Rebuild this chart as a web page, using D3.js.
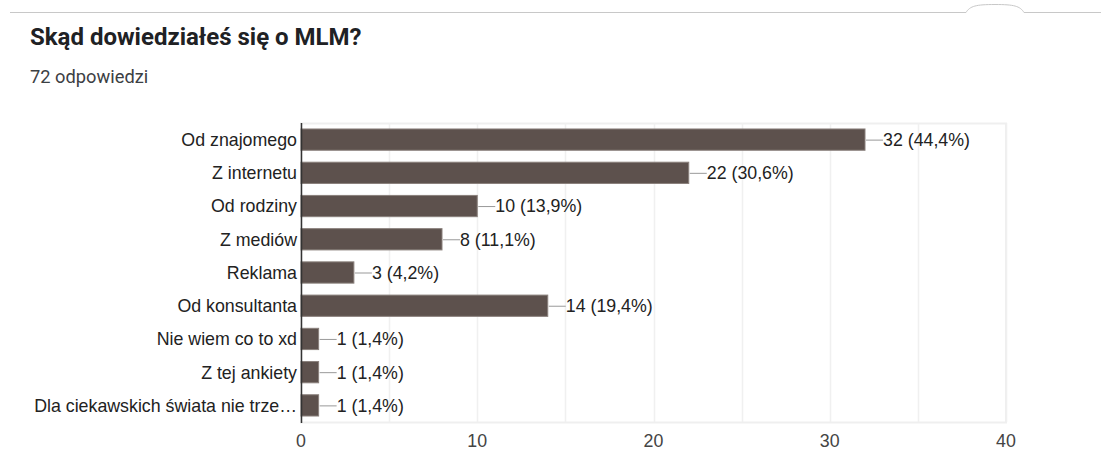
<!DOCTYPE html>
<html>
<head>
<meta charset="utf-8">
<script src="https://cdn.jsdelivr.net/npm/d3@7"></script>
<style>
  body { margin: 0; background: #fff; }
  svg { display: block; }
</style>
</head>
<body>
<div class="container"></div>
<script>
// data
const categories = ["Od znajomego", "Z internetu", "Od rodziny", "Z mediów", "Reklama",
  "Od konsultanta", "Nie wiem co to xd", "Z tej ankiety", "Dla ciekawskich świata nie trze…"];
const counts = [32, 22, 10, 8, 3, 14, 1, 1, 1];
const percents = ["44,4%", "30,6%", "13,9%", "11,1%", "4,2%", "19,4%", "1,4%", "1,4%", "1,4%"];
const xTicks = [0, 10, 20, 30, 40];
const gridTicks = [5, 10, 15, 20, 25, 30, 35, 40];

const W = 1101, H = 450;
const plot = { left: 301, right: 1006, top: 123, bottom: 422 };
const chartFont = "Arial, 'Liberation Sans', sans-serif";

const svg = d3.select("div.container").append("svg")
  .attr("width", W).attr("height", H);

// top divider with the little bump
svg.append("path")
  .attr("d", "M10,12.5 L966,12.5 C970,6 976,4.5 995,4.5 C1014,4.5 1020,6 1024,12.5 L1101,12.5")
  .attr("fill", "none").attr("stroke", "#c8c8c8").attr("stroke-width", 1);

//title
svg.append("text")
  .attr("x", 30).attr("y", 45)
  .style("font-family", "Roboto, Arial, sans-serif")
  .style("font-size", "24px").style("font-weight", "bold")
  .attr("fill", "#202124")
  .text("Skąd dowiedziałeś się o MLM?");

svg.append("text")
  .attr("x", 30).attr("y", 83)
  .style("font-family", "Roboto, Arial, sans-serif")
  .style("font-size", "18.3px")
  .attr("fill", "#3c4043")
  .text("72 odpowiedzi");

const x = d3.scaleLinear().domain([0, 40]).range([plot.left, plot.right]);
const y = d3.scaleBand().domain(categories).range([plot.top, plot.bottom]).paddingInner(0.36).paddingOuter(0.18);

const g = svg.append("g");

// plot frame + grid
g.append("rect")
  .attr("x", plot.left).attr("y", plot.top + 0.5)
  .attr("width", plot.right - plot.left).attr("height", plot.bottom - plot.top)
  .attr("fill", "none").attr("stroke", "#efefef").attr("stroke-width", 2);

g.selectAll("line.grid")
  .data(gridTicks)
  .enter().append("line")
  .attr("class", "grid")
  .attr("x1", d => Math.round(x(d)) + 0.5).attr("x2", d => Math.round(x(d)) + 0.5)
  .attr("y1", plot.top).attr("y2", plot.bottom)
  .attr("stroke", "#f0f0f0").attr("stroke-width", 1.5);

// bars
g.selectAll("rect.bar")
  .data(categories)
  .enter().append("rect")
  .attr("class", "bar")
  .attr("x", x(0))
  .attr("y", d => y(d))
  .attr("width", (d, i) => x(counts[i]) - x(0))
  .attr("height", y.bandwidth())
  .attr("fill", "#5d514d")
  .attr("stroke", "#8a807c").attr("stroke-width", 1);

// leader lines and value labels
g.selectAll("line.lead")
  .data(categories)
  .enter().append("line")
  .attr("class", "lead")
  .attr("x1", (d, i) => x(counts[i]) + 1).attr("x2", (d, i) => x(counts[i]) + 18)
  .attr("y1", d => y(d) + y.bandwidth() / 2 + 0.5).attr("y2", d => y(d) + y.bandwidth() / 2 + 0.5)
  .attr("stroke", "#999").attr("stroke-width", 1);

g.selectAll("text.val")
  .data(categories)
  .enter().append("text")
  .attr("class", "val")
  .attr("x", (d, i) => x(counts[i]) + 18)
  .attr("y", d => y(d) + y.bandwidth() / 2)
  .attr("dy", "0.36em")
  .style("font-family", chartFont)
  .style("font-size", "17.8px")
  .attr("fill", "#222")
  .text((d, i) => `${counts[i]} (${percents[i]})`);

// y axis
g.selectAll("text.cat")
  .data(categories)
  .enter().append("text")
  .attr("class", "cat")
  .attr("x", plot.left - 4)
  .attr("y", d => y(d) + y.bandwidth() / 2)
  .attr("dy", "0.36em")
  .attr("text-anchor", "end")
  .style("font-family", chartFont)
  .style("font-size", "17.8px")
  .attr("fill", "#222")
  .text(d => d);

g.append("line")
  .attr("x1", plot.left + 0.5).attr("x2", plot.left + 0.5)
  .attr("y1", plot.top).attr("y2", plot.bottom + 1)
  .attr("stroke", "#333").attr("stroke-width", 1.5);

// x tick labels
g.selectAll("text.tick")
  .data(xTicks)
  .enter().append("text")
  .attr("class", "tick")
  .attr("x", d => x(d))
  .attr("y", 447)
  .attr("text-anchor", "middle")
  .style("font-family", chartFont)
  .style("font-size", "17.8px")
  .attr("fill", "#444")
  .text(d => d);
</script>
</body>
</html>
